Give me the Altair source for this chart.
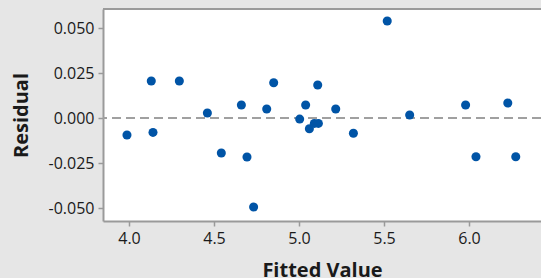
import altair as alt
import pandas as pd

fitted = [3.988, 4.131, 4.141, 4.296, 4.461, 4.543, 4.661, 4.694, 4.733, 4.810,
          4.851, 5.004, 5.039, 5.061, 5.090, 5.110, 5.114, 5.216, 5.320, 5.519,
          5.651, 5.980, 6.041, 6.228, 6.275]
residual = [-0.0094, 0.0206, -0.0080, 0.0206, 0.0028, -0.0194, 0.0072, -0.0217, -0.0494, 0.0050,
            0.0196, -0.0006, 0.0072, -0.0060, -0.0030, 0.0183, -0.0030, 0.0050, -0.0085, 0.0539,
            0.0017, 0.0072, -0.0215, 0.0083, -0.0215]
x_ticks = [4.0, 4.5, 5.0, 5.5, 6.0]
y_ticks = [-0.05, -0.025, 0.0, 0.025, 0.05]

df = pd.DataFrame({"fitted": fitted, "residual": residual})

W, H = 438, 212
FONT = "Open Sans"
GRAY = "#9a9a9a"

xs = alt.Scale(domain=[3.847, 6.4235], nice=False, zero=False)
ys = alt.Scale(domain=[-0.05722, 0.06056], nice=False, zero=False)

points = alt.Chart(df).mark_circle(size=82, opacity=1, color="#0054A6").encode(
    x=alt.X("fitted:Q", scale=xs, title="Fitted Value",
            axis=alt.Axis(values=x_ticks, format=".1f", grid=False,
                          domainColor=GRAY, domainWidth=2, tickColor=GRAY,
                          tickSize=5, tickWidth=1.5, labelFont=FONT, labelFontSize=16,
                          labelColor="#1a1a1a", labelPadding=4,
                          titleFont=FONT, titleFontSize=20, titleFontWeight="bold",
                          titleColor="#1a1a1a", titleBaseline="alphabetic", titleY=55)),
    y=alt.Y("residual:Q", scale=ys, title="Residual",
            axis=alt.Axis(values=y_ticks, grid=False,
                          labelExpr="datum.value < 0 ? '-' + format(-datum.value, '.3f') : format(datum.value, '.3f')",
                          domainColor=GRAY, domainWidth=2, tickColor=GRAY,
                          tickSize=5, tickWidth=1.5, labelFont=FONT, labelFontSize=16,
                          labelColor="#1a1a1a", labelPadding=4,
                          titleFont=FONT, titleFontSize=20, titleFontWeight="bold",
                          titleColor="#1a1a1a", titleBaseline="alphabetic", titleX=-76)),
)

zero = alt.Chart(pd.DataFrame({"y": [0.0]})).mark_rule(
    color="#a0a0a0", strokeWidth=2, strokeDash=[9, 5]
).encode(y=alt.Y("y:Q", scale=ys))

top = alt.Chart(pd.DataFrame({"y": [0]})).mark_rule(color=GRAY, strokeWidth=2).encode(
    x=alt.value(0), x2=alt.value(W), y=alt.value(0)
)

chart = alt.layer(zero, points, top).properties(
    width=W, height=H, background="#e6e6e6",
    padding={"left": 103, "top": 9, "right": 0, "bottom": 57},
    autosize=alt.AutoSizeParams(type="none"),
).configure_view(stroke=None, fill="white")

chart.save("out.html", embed_options={"renderer": "svg", "actions": False})
